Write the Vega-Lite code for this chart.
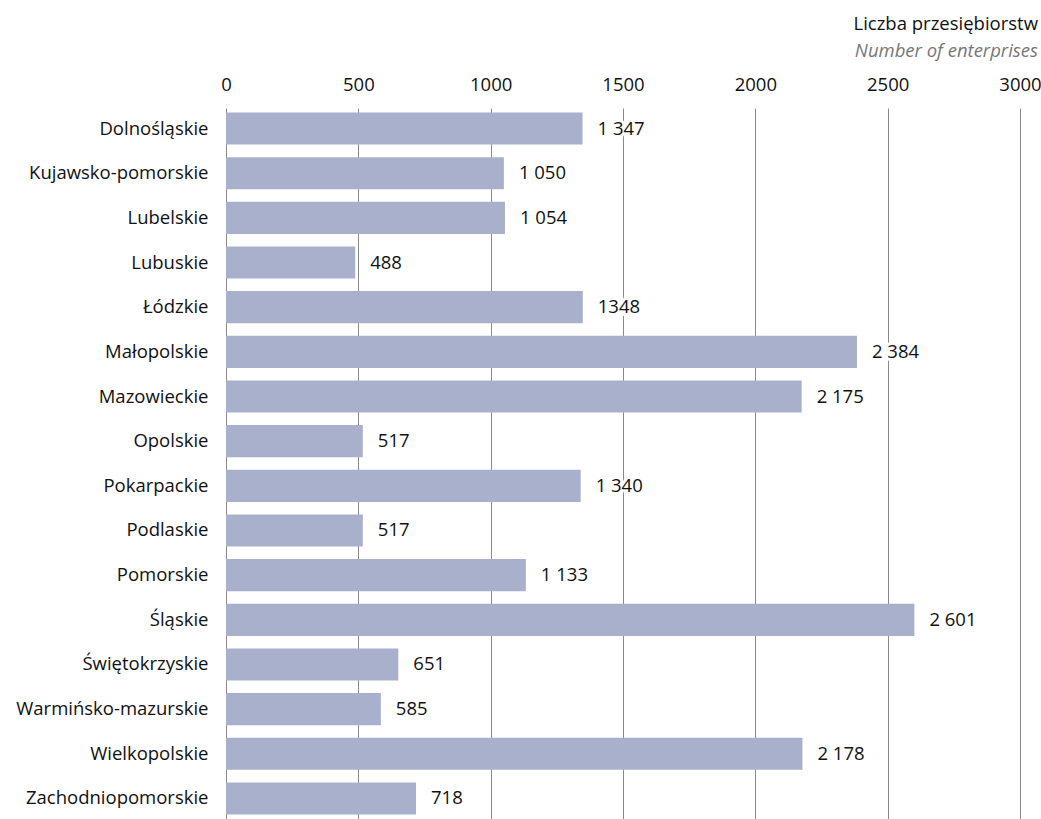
{
  "$schema": "https://vega.github.io/schema/vega-lite/v6.json",
  "autosize": "none",
  "width": 794,
  "height": 711,
  "padding": {"left": 226, "top": 108, "right": 21, "bottom": 0},
  "background": "white",
  "title": {
    "text": "Liczba przesiębiorstw",
    "subtitle": "Number of enterprises",
    "anchor": "end",
    "frame": "group",
    "dx": 18,
    "offset": 15,
    "font": "Open Sans",
    "fontSize": 18.5,
    "fontWeight": "normal",
    "color": "#111111",
    "subtitleFont": "Open Sans",
    "subtitleFontSize": 18.5,
    "subtitleFontStyle": "italic",
    "subtitleColor": "#777777",
    "subtitlePadding": 8
  },
  "data": {
    "values": [
      {"region": "Dolnośląskie", "value": 1347, "label": "1 347"},
      {"region": "Kujawsko-pomorskie", "value": 1050, "label": "1 050"},
      {"region": "Lubelskie", "value": 1054, "label": "1 054"},
      {"region": "Lubuskie", "value": 488, "label": "488"},
      {"region": "Łódzkie", "value": 1348, "label": "1348"},
      {"region": "Małopolskie", "value": 2384, "label": "2 384"},
      {"region": "Mazowieckie", "value": 2175, "label": "2 175"},
      {"region": "Opolskie", "value": 517, "label": "517"},
      {"region": "Pokarpackie", "value": 1340, "label": "1 340"},
      {"region": "Podlaskie", "value": 517, "label": "517"},
      {"region": "Pomorskie", "value": 1133, "label": "1 133"},
      {"region": "Śląskie", "value": 2601, "label": "2 601"},
      {"region": "Świętokrzyskie", "value": 651, "label": "651"},
      {"region": "Warmińsko-mazurskie", "value": 585, "label": "585"},
      {"region": "Wielkopolskie", "value": 2178, "label": "2 178"},
      {"region": "Zachodniopomorskie", "value": 718, "label": "718"}
    ]
  },
  "encoding": {
    "y": {
      "field": "region",
      "type": "nominal",
      "sort": null,
      "scale": {"paddingInner": 0.28, "paddingOuter": 0.1},
      "axis": {
        "title": null,
        "ticks": false,
        "domain": false,
        "labelPadding": 18,
        "labelLimit": 260,
        "labelFont": "Open Sans",
        "labelFontSize": 18.5,
        "labelColor": "#111111"
      }
    },
    "x": {
      "field": "value",
      "type": "quantitative",
      "scale": {"domain": [0, 3000], "nice": false},
      "axis": {
        "orient": "top",
        "values": [0, 500, 1000, 1500, 2000, 2500, 3000],
        "format": "d",
        "title": null,
        "ticks": false,
        "domain": false,
        "grid": true,
        "gridColor": "#8a8a8a",
        "gridWidth": 1,
        "labelPadding": 14,
        "labelFont": "Open Sans",
        "labelFontSize": 18.5,
        "labelColor": "#111111",
        "labelFlush": false
      }
    }
  },
  "layer": [
    {"mark": {"type": "bar", "color": "#a9b0cc"}},
    {
      "mark": {"type": "text", "align": "left", "baseline": "middle", "dx": 15, "font": "Open Sans", "fontSize": 18.5, "stroke": "white", "strokeWidth": 6, "fill": "white"},
      "encoding": {"text": {"field": "label"}}
    },
    {
      "mark": {"type": "text", "align": "left", "baseline": "middle", "dx": 15, "font": "Open Sans", "fontSize": 18.5, "color": "#111111"},
      "encoding": {"text": {"field": "label"}}
    }
  ],
  "config": {"view": {"stroke": null}}
}
